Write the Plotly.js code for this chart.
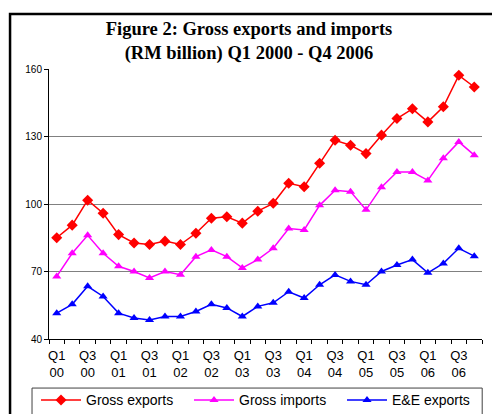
<!DOCTYPE html>
<html>
<head>
<meta charset="utf-8">
<script src="https://cdn.plot.ly/plotly-3.0.1.min.js"></script>
<style>
  html, body { margin: 0; padding: 0; background: #fff; }
  #chart { width: 492px; height: 414px; }
</style>
</head>
<body>
<div id="chart"></div>
<script>
const categories = [
  "Q1 00","Q2 00","Q3 00","Q4 00",
  "Q1 01","Q2 01","Q3 01","Q4 01",
  "Q1 02","Q2 02","Q3 02","Q4 02",
  "Q1 03","Q2 03","Q3 03","Q4 03",
  "Q1 04","Q2 04","Q3 04","Q4 04",
  "Q1 05","Q2 05","Q3 05","Q4 05",
  "Q1 06","Q2 06","Q3 06","Q4 06"
];
const tickLabels = [
  "Q1<br>00","","Q3<br>00","",
  "Q1<br>01","","Q3<br>01","",
  "Q1<br>02","","Q3<br>02","",
  "Q1<br>03","","Q3<br>03","",
  "Q1<br>04","","Q3<br>04","",
  "Q1<br>05","","Q3<br>05","",
  "Q1<br>06","","Q3<br>06",""
];
const grossExports = [
  85.0, 90.6, 101.7, 95.9,
  86.4, 82.7, 82.0, 83.5,
  82.0, 87.0, 93.7, 94.3,
  91.5, 96.8, 100.3, 109.2,
  107.7, 118.1, 128.3, 126.1,
  122.4, 130.6, 138.0, 142.3,
  136.5, 143.2, 157.2, 152.0
];
const grossImports = [
  67.8, 78.1, 86.1, 78.1,
  72.3, 70.0, 67.1, 70.0,
  68.6, 76.6, 79.6, 76.6,
  71.6, 75.3, 80.3, 89.1,
  88.5, 99.4, 106.1, 105.5,
  97.4, 107.5, 114.2, 114.2,
  110.5, 120.3, 127.6, 121.7
];
const eeExports = [
  51.5, 55.4, 63.4, 58.9,
  51.5, 49.3, 48.5, 50.0,
  50.0, 52.2, 55.4, 53.8,
  50.0, 54.5, 56.1, 61.0,
  58.2, 64.1, 68.5, 65.6,
  64.1, 70.0, 72.9, 75.3,
  69.4, 73.6, 80.3, 76.8
];
const seriesNames = ["Gross exports", "Gross imports", "E&E exports"];

// plot-area geometry in pixels (used only for paper-coordinate helpers)
const W = 492, H = 414;
const L = 49, R = 482.5, T = 69, B = 338.7;
const px = x => (x - L) / (R - L);
const py = y => (B - y) / (B - T);

const traces = [
  {
    x: categories, y: grossExports, name: seriesNames[0],
    type: "scatter", mode: "lines+markers",
    line: { color: "#FF0000", width: 1.5 },
    marker: { symbol: "diamond", size: 8.5, color: "#FF0000" }
  },
  {
    x: categories, y: grossImports, name: seriesNames[1],
    type: "scatter", mode: "lines+markers",
    line: { color: "#FF00FF", width: 1.5 },
    marker: { symbol: "triangle-up", size: 8, color: "#FF00FF" }
  },
  {
    x: categories, y: eeExports, name: seriesNames[2],
    type: "scatter", mode: "lines+markers",
    line: { color: "#0000FF", width: 1.5 },
    marker: { symbol: "triangle-up", size: 8, color: "#0000FF" }
  }
];

const layout = {
  width: W, height: H,
  margin: { l: L, r: W - R, t: T, b: H - B, pad: 0, autoexpand: false },
  paper_bgcolor: "#ffffff",
  plot_bgcolor: "#ffffff",
  font: { family: "Liberation Sans, Arial, sans-serif", color: "#000" },
  title: {
    text: "<b>Figure 2: Gross exports and imports<br>(RM billion) Q1 2000 - Q4 2006</b>",
    font: { family: "Liberation Serif, Times New Roman, serif", size: 18.5, color: "#000" },
    x: 249 / W, xref: "container", xanchor: "center",
    y: 1 - 35 / H, yref: "container", yanchor: "top"
  },
  xaxis: {
    type: "category",
    range: [-0.5, 27.5],
    tickmode: "array",
    tickvals: categories,
    ticktext: tickLabels,
    tickson: "boundaries",
    ticks: "outside", ticklen: 4, tickwidth: 1, tickcolor: "#000",
    ticklabelstandoff: 4,
    tickfont: { size: 13, color: "#000" },
    tickangle: 0,
    showline: true, linecolor: "#000", linewidth: 1,
    showgrid: false, zeroline: false,
    fixedrange: true
  },
  yaxis: {
    range: [40, 160],
    tickmode: "linear", tick0: 40, dtick: 30,
    ticks: "outside", ticklen: 4, tickwidth: 1, tickcolor: "#000",
    tickfont: { size: 10, color: "#000" },
    showline: true, linecolor: "#000", linewidth: 1,
    showgrid: true, gridcolor: "#808080", gridwidth: 1,
    zeroline: false,
    fixedrange: true
  },
  showlegend: true,
  legend: {
    orientation: "h",
    x: px(36), xanchor: "left",
    y: py(384), yanchor: "top",
    bgcolor: "rgba(0,0,0,0)",
    borderwidth: 0,
    font: { size: 14, color: "#000" },
    itemwidth: 40,
    entrywidth: 98,
    traceorder: "normal"
  },
  shapes: [
    // outer chart border (top and left visible)
    { type: "rect", xref: "paper", yref: "paper",
      x0: px(10), x1: px(520), y0: py(14), y1: py(460),
      line: { color: "#000", width: 2.5 }, fillcolor: "rgba(0,0,0,0)", layer: "above" },
    // legend box
    { type: "rect", xref: "paper", yref: "paper",
      x0: px(32), x1: px(482.7), y0: py(387.7), y1: py(440),
      line: { color: "#404040", width: 1 }, fillcolor: "rgba(0,0,0,0)", layer: "above" }
  ]
};

Plotly.newPlot("chart", traces, layout, { displayModeBar: false, staticPlot: true });
</script>
</body>
</html>
